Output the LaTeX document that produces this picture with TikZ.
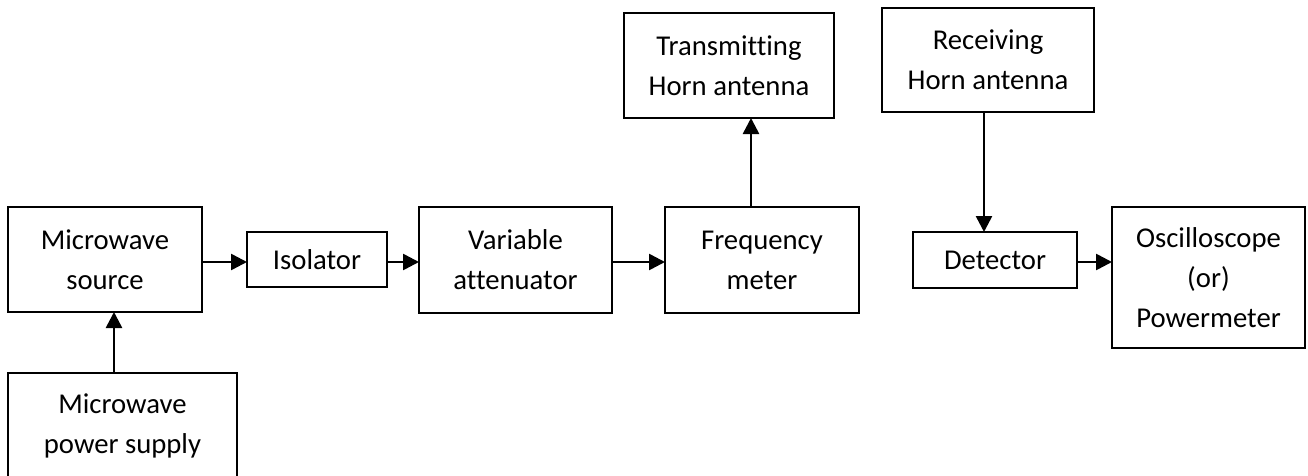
\documentclass[tikz,border=0pt]{standalone}
\usepackage{fontspec}
\setmainfont{Carlito}[Ligatures=NoCommon]
\usetikzlibrary{arrows.meta}
\tikzset{
  block/.style={draw, line width=2.2pt, inner sep=0pt, outer sep=0pt, align=center,
    font=\fontsize{28.7pt}{40pt}\selectfont},
  flow/.style={line width=2.6pt, -{Triangle[length=16pt,width=16pt]}}
}
\begin{document}
\begin{tikzpicture}[x=1pt, y=-1pt]
  \useasboundingbox (0,0) rectangle (1308,476);
  \clip (0,0) rectangle (1308,476);
  % signal chain boxes
  \node[block, minimum width=194pt, minimum height=105pt] (src) at (105,259.5) {Microwave\\source};
  \node[block, minimum width=140pt, minimum height=55pt] (iso) at (317,259.5) {Isolator};
  \node[block, minimum width=193pt, minimum height=106pt] (att) at (515.5,260) {Variable\\attenuator};
  \node[block, minimum width=194pt, minimum height=106pt] (freq) at (762,260) {Frequency\\meter};
  \node[block, minimum width=210pt, minimum height=105pt] (tx) at (729,65.5) {Transmitting\\Horn antenna};
  \node[block, minimum width=212pt, minimum height=104pt] (rx) at (988,60) {Receiving\\Horn antenna};
  \node[block, minimum width=164pt, minimum height=56pt] (det) at (995,260) {Detector};
  \node[block, minimum width=193pt, minimum height=141pt] (osc) at (1208.5,277.5) {Oscilloscope\\(or)\\Powermeter};
  \node[block, minimum width=229pt, minimum height=105pt] (psu) at (122.5,425.5) {Microwave\\power supply};
  % connectors
  \coordinate (srcR) at (src.east |- 0,262);
  \draw[flow] (srcR) -- (srcR -| iso.west);
  \coordinate (isoR) at (iso.east |- 0,262);
  \draw[flow] (isoR) -- (isoR -| att.west);
  \coordinate (attR) at (att.east |- 0,262);
  \draw[flow] (attR) -- (attR -| freq.west);
  \coordinate (detR) at (det.east |- 0,262);
  \draw[flow] (detR) -- (detR -| osc.west);
  \coordinate (freqT) at (751,0 |- freq.north);
  \draw[flow] (freqT) -- (freqT |- tx.south);
  \coordinate (rxB) at (984,0 |- rx.south);
  \draw[flow] (rxB) -- (rxB |- det.north);
  \coordinate (psuT) at (114,0 |- psu.north);
  \draw[flow] (psuT) -- (psuT |- src.south);
\end{tikzpicture}
\end{document}
